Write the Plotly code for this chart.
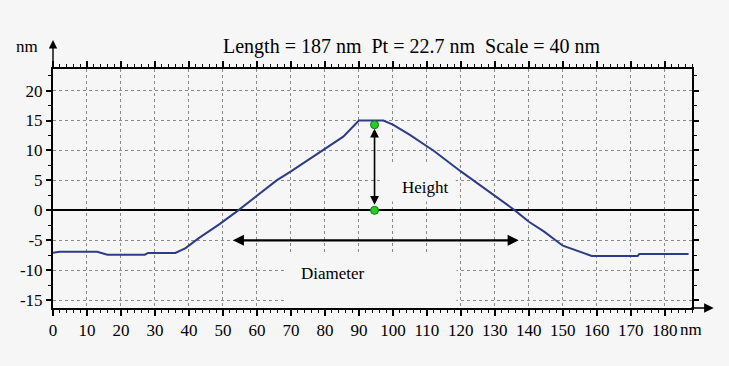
import plotly.graph_objects as go

# ---- data ----
x_nm = [0, 2, 13, 16, 27, 28, 36, 39, 43, 49, 54.5, 60, 65.8, 70, 79.5, 85.4, 90, 97.2,
        100, 105, 110, 111.9, 120, 123.6, 130, 135.9, 140, 144.4, 150, 156.7, 158.5, 172, 172.5, 187]
height_nm = [-7.1, -6.9, -6.9, -7.4, -7.4, -7.1, -7.1, -6.3, -4.6, -2.3, 0.0, 2.5, 5.0, 6.5, 10.0, 12.3, 15.0, 15.0,
             14.3, 12.6, 10.7, 10.0, 6.5, 5.0, 2.4, 0.0, -1.9, -3.5, -5.9, -7.2, -7.6, -7.6, -7.3, -7.3]

height_marker_x = [94.6, 94.6]
height_marker_y = [0.0, 14.3]
diameter_arrow_x = [52.5, 137.0]
diameter_arrow_y = [-5.0, -5.0]

x_tickvals = [0, 10, 20, 30, 40, 50, 60, 70, 80, 90, 100, 110, 120, 130, 140, 150, 160, 170, 180]
x_ticktext = ["0", "10", "20", "30", "40", "50", "60", "70", "80", "90", "100", "110", "120",
              "130", "140", "150", "160", "170", "180"]
x_unit = "nm"
y_tickvals = [-15, -10, -5, 0, 5, 10, 15, 20]
y_ticktext = ["-15", "-10", "-5", "0", "5", "10", "15", "20"]

title_text = "Length = 187 nm  Pt = 22.7 nm  Scale = 40 nm"
y_unit = "nm"
height_label = "Height"
diameter_label = "Diameter"

# label boxes (data coords)
height_box = dict(x0=96.5, x1=118.5, y0=1.5, y1=8.0)
diameter_box = dict(x0=68.5, x1=118.7, y0=-16.2, y1=-7.0)
height_label_pos = (109.5, 3.9)
diameter_label_pos = (82.5, -10.6)

BG = "#f6f6f6"
FONT = "Liberation Serif"

fig = go.Figure()

fig.add_trace(go.Scatter(
    x=x_nm, y=height_nm, mode="lines",
    line=dict(color="#2c3d85", width=2),
    hoverinfo="skip", showlegend=False))

fig.add_trace(go.Scatter(
    x=height_marker_x, y=height_marker_y, mode="markers",
    marker=dict(color="#22d022", size=8, line=dict(color="#1a6e1a", width=1)),
    hoverinfo="skip", showlegend=False))

# boxes behind labels (above grid, below traces)
for b in (height_box, diameter_box):
    fig.add_shape(type="rect", xref="x", yref="y", layer="between",
                  line=dict(width=0), fillcolor=BG, **b)

annotations = []
annotations.append(dict(
    x=height_marker_x[1], y=height_marker_y[1], ax=height_marker_x[0], ay=height_marker_y[0],
    xref="x", yref="y", axref="x", ayref="y", text="", showarrow=True,
    arrowhead=2, startarrowhead=2, arrowside="end+start", arrowwidth=1.6, arrowsize=1.1,
    arrowcolor="black", standoff=4, startstandoff=4))
annotations.append(dict(
    x=diameter_arrow_x[1], y=diameter_arrow_y[1], ax=diameter_arrow_x[0], ay=diameter_arrow_y[0],
    xref="x", yref="y", axref="x", ayref="y", text="", showarrow=True,
    arrowhead=2, startarrowhead=2, arrowside="end+start", arrowwidth=2.2, arrowsize=1.0,
    arrowcolor="black"))
annotations.append(dict(x=height_label_pos[0], y=height_label_pos[1], xref="x", yref="y",
                        text=height_label, showarrow=False,
                        font=dict(family=FONT, size=17, color="black")))
annotations.append(dict(x=diameter_label_pos[0], y=diameter_label_pos[1], xref="x", yref="y",
                        text=diameter_label, showarrow=False,
                        font=dict(family=FONT, size=17, color="black")))
# axis arrows
annotations.append(dict(x=1.034, y=0, xref="x domain", yref="y domain", ax=-24, ay=0,
                        text="", showarrow=True, arrowhead=2, arrowwidth=1.6, arrowsize=1.2,
                        arrowcolor="black"))
annotations.append(dict(x=0, y=1.121, xref="x domain", yref="y domain", ax=0, ay=29,
                        text="", showarrow=True, arrowhead=2, arrowwidth=1.4, arrowsize=1.2,
                        arrowcolor="black"))
# header texts
annotations.append(dict(x=0.562, y=1.096, xref="x domain", yref="y domain", text=title_text,
                        xanchor="center", yanchor="middle",
                        showarrow=False, font=dict(family=FONT, size=20, color="black")))
annotations.append(dict(x=-0.04, y=1.096, xref="x domain", yref="y domain", text=y_unit,
                        xanchor="center", yanchor="middle",
                        showarrow=False, font=dict(family=FONT, size=17, color="black")))
# x unit after the last tick label
annotations.append(dict(x=x_tickvals[-1], y=0, xref="x", yref="y domain", text=x_unit,
                        xanchor="left", yanchor="top", xshift=13, yshift=-10,
                        showarrow=False, font=dict(family=FONT, size=17, color="black")))

fig.update_layout(
    width=729, height=366,
    margin=dict(l=53, r=37, t=69, b=58, autoexpand=False),
    paper_bgcolor=BG, plot_bgcolor=BG,
    font=dict(family=FONT, size=17, color="black"),
    annotations=annotations,
    showlegend=False,
)

fig.update_xaxes(
    range=[0, 188], tickvals=x_tickvals, ticktext=x_ticktext, tickangle=0, automargin=False,
    showline=True, linecolor="black", linewidth=2, mirror="allticks",
    ticks="outside", ticklen=6, tickwidth=1.5, tickcolor="black",
    minor=dict(dtick=2, ticks="outside", ticklen=3, tickcolor="black", tickwidth=1, showgrid=False),
    showgrid=True, gridcolor="#8a8a8a", gridwidth=1, griddash="dot",
    zeroline=False, tickfont=dict(family=FONT, size=17, color="black"),
)
fig.update_yaxes(
    range=[-16.3, 23.6], tickvals=y_tickvals, ticktext=y_ticktext, automargin=False,
    showline=True, linecolor="black", linewidth=2, mirror="allticks",
    ticks="outside", ticklen=5, tickwidth=1.5, tickcolor="black",
    minor=dict(dtick=2.5, tick0=0, ticks="outside", ticklen=3, tickcolor="black", tickwidth=1, showgrid=False),
    showgrid=True, gridcolor="#8a8a8a", gridwidth=1, griddash="dot",
    zeroline=True, zerolinecolor="black", zerolinewidth=1.6,
    tickfont=dict(family=FONT, size=17, color="black"),
)

fig.write_html("out.html", config={"displayModeBar": False},
               post_script="document.body.style.margin='0';document.body.style.background='%s';" % BG)
